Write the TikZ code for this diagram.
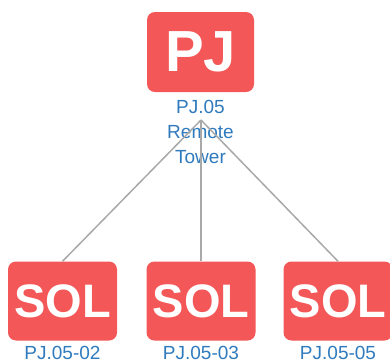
\documentclass[tikz,border=0pt]{standalone}
\usepackage{fontspec}
\setmainfont{Liberation Sans}
\definecolor{tilered}{HTML}{F45757}
\definecolor{labelblue}{HTML}{2F7ABD}
\definecolor{linkgray}{HTML}{A9A9A9}
\begin{document}
\begin{tikzpicture}[x=1pt,y=-1pt,
  tile/.style={fill=tilered,rounded corners=8pt,inner sep=0pt,text=white,
    font=\bfseries},
  projtile/.style={tile,minimum width=107pt,minimum height=80pt,
    font=\fontsize{58}{58}\selectfont\bfseries},
  soltile/.style={tile,minimum width=109pt,minimum height=79pt,
    font=\fontsize{47}{47}\selectfont\bfseries},
  caption/.style={text=labelblue,inner sep=0pt,align=center,
    font=\fontsize{19}{25}\selectfont},
  link/.style={draw=linkgray,line width=1.5pt}]
\useasboundingbox (0,0) rectangle (390,360);

% parent project
\node[projtile] (pj) at (200.5,52) {PJ};
\node[caption,anchor=north] (pjlabel) at (200.5,100) {PJ.05\\Remote\\Tower};

% solutions
\node[soltile] (sol2) at (62.5,301) {SOL};
\node[soltile] (sol3) at (201,301) {SOL};
\node[soltile] (sol5) at (338,301) {SOL};
\node[caption,anchor=north] (sol2label) at (62.5,346) {PJ.05-02};
\node[caption,anchor=north] (sol3label) at (201,346) {PJ.05-03};
\node[caption,anchor=north] (sol5label) at (338,346) {PJ.05-05};

% links from the project to its solutions
\coordinate (hub) at (201,120);
\draw[link] (hub) -- (sol2.north);
\draw[link] (hub) -- (sol3.north);
\draw[link] (hub) -- (sol5.north);
\end{tikzpicture}
\end{document}
